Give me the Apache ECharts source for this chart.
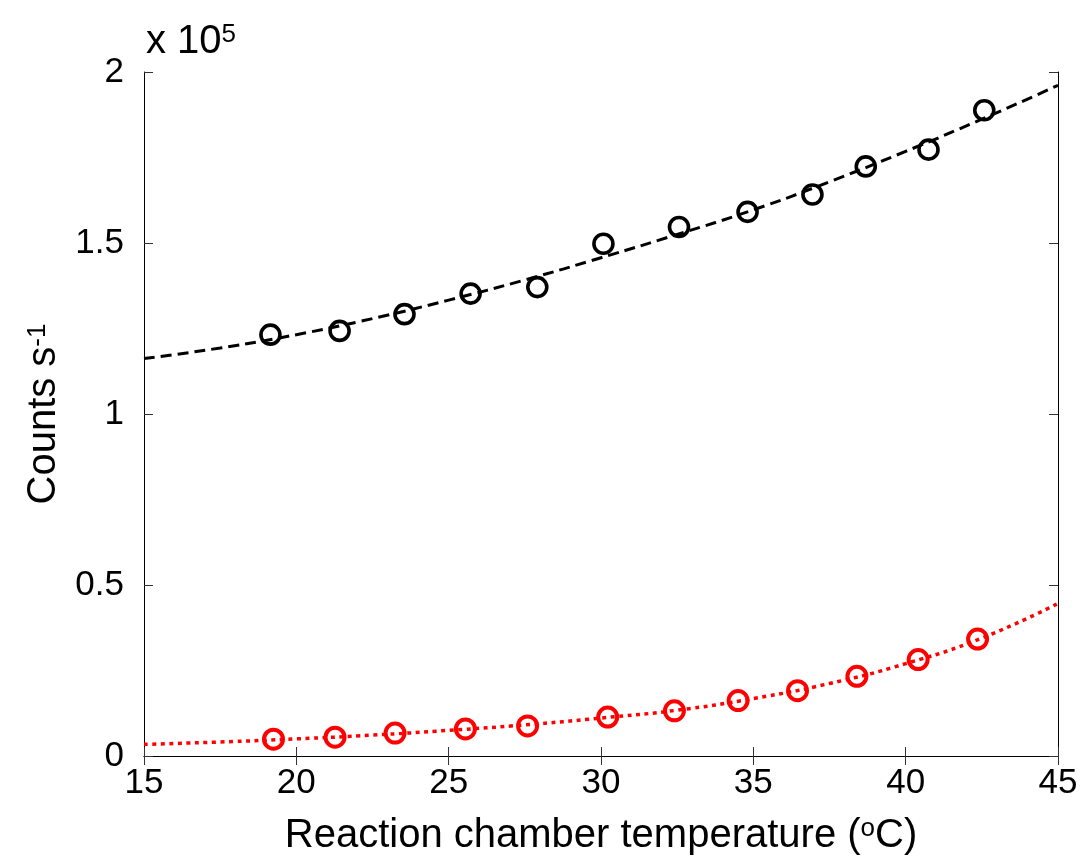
<!DOCTYPE html>
<html>
<head>
<meta charset="utf-8">
<script src="https://cdn.jsdelivr.net/npm/echarts@6/dist/echarts.min.js"></script>
<style>
  html, body { margin: 0; padding: 0; background: #fff; }
  #chart { width: 1084px; height: 863px; }
</style>
</head>
<body>
<div id="chart"></div>
<script>
// measured points (counts in units of 1e5)
var tempBlack = [19.15, 21.42, 23.55, 25.72, 27.91, 30.08, 32.56, 34.81, 36.94, 38.69, 40.75, 42.58];
var countsBlack = [1.232, 1.243, 1.292, 1.352, 1.371, 1.498, 1.547, 1.591, 1.642, 1.724, 1.773, 1.888];
var tempRed = [19.25, 21.27, 23.24, 25.55, 27.59, 30.22, 32.41, 34.5, 36.45, 38.4, 40.41, 42.36];
var countsRed = [0.049, 0.055, 0.067, 0.079, 0.088, 0.114, 0.132, 0.162, 0.191, 0.233, 0.282, 0.342];

// fitted curves
var fitTemp = [15, 17.5, 20, 22.5, 25, 27.5, 30, 32.5, 35, 37.5, 40, 42.5, 45];
var fitBlack = [1.162, 1.193, 1.232, 1.279, 1.333, 1.392, 1.457, 1.525, 1.597, 1.679, 1.768, 1.862, 1.961];
var fitRed = [0.034, 0.041, 0.05, 0.061, 0.075, 0.091, 0.111, 0.134, 0.168, 0.212, 0.27, 0.345, 0.446];

function pairs(xs, ys) {
  return xs.map(function (x, i) { return [x, ys[i]]; });
}

var myChart = echarts.init(document.getElementById("chart"));
var font = "Liberation Sans, Arial, sans-serif";

var tickStyle = { show: true, inside: true, length: 9, lineStyle: { color: "#333", width: 1 } };
var supStyle = { fontSize: 26, verticalAlign: "top", color: "#000", fontFamily: font };

var option = {
  animation: false,
  backgroundColor: "#fff",
  grid: { left: 144, right: 26, top: 72, bottom: 107 },
  textStyle: { fontFamily: font },
  graphic: [
    {
      type: "text",
      left: 146,
      top: 22,
      style: {
        text: "x 10{sup|5}",
        fontFamily: font,
        fontSize: 40,
        fill: "#000",
        rich: { sup: { fontSize: 26, verticalAlign: "top", fontFamily: font, fill: "#000" } }
      }
    }
  ],
  xAxis: [
    {
      type: "value",
      min: 15,
      max: 45,
      interval: 5,
      name: "Reaction chamber temperature ({sup|o}C)",
      nameLocation: "middle",
      nameGap: 60,
      nameTextStyle: {
        color: "#000",
        fontSize: 40,
        fontFamily: font,
        rich: { sup: supStyle }
      },
      axisLine: { lineStyle: { color: "#000", width: 1 } },
      axisTick: tickStyle,
      axisLabel: { color: "#000", fontSize: 35, margin: 10, fontFamily: font },
      splitLine: { show: false }
    },
    {
      type: "value",
      position: "top",
      min: 15,
      max: 45,
      interval: 5,
      axisLine: { show: true, lineStyle: { color: "#000", width: 1 } },
      axisTick: tickStyle,
      axisLabel: { show: false },
      splitLine: { show: false }
    }
  ],
  yAxis: [
    {
      type: "value",
      min: 0,
      max: 2,
      interval: 0.5,
      name: "Counts s{sup|-1}",
      nameLocation: "middle",
      nameGap: 78,
      nameTextStyle: {
        color: "#000",
        fontSize: 40,
        fontFamily: font,
        rich: { sup: supStyle }
      },
      axisLine: { show: true, lineStyle: { color: "#000", width: 1 } },
      axisTick: tickStyle,
      axisLabel: { color: "#000", fontSize: 35, margin: 20, fontFamily: font },
      splitLine: { show: false }
    },
    {
      type: "value",
      position: "right",
      min: 0,
      max: 2,
      interval: 0.5,
      axisLine: { show: true, lineStyle: { color: "#000", width: 1 } },
      axisTick: tickStyle,
      axisLabel: { show: false },
      splitLine: { show: false }
    }
  ],
  series: [
    {
      type: "line",
      data: pairs(fitTemp, fitBlack),
      smooth: true,
      symbol: "none",
      lineStyle: { color: "#000", width: 3, type: [11, 6], cap: "butt" }
    },
    {
      type: "line",
      data: pairs(fitTemp, fitRed),
      smooth: true,
      symbol: "none",
      lineStyle: { color: "#ff0000", width: 3.5, type: [4, 4.5], cap: "butt" }
    },
    {
      type: "scatter",
      data: pairs(tempBlack, countsBlack),
      symbol: "circle",
      symbolSize: 19,
      itemStyle: { color: "rgba(0,0,0,0)", borderColor: "#000", borderWidth: 3.6, opacity: 1 }
    },
    {
      type: "scatter",
      data: pairs(tempRed, countsRed),
      symbol: "circle",
      symbolSize: 19,
      itemStyle: { color: "rgba(0,0,0,0)", borderColor: "#ff0000", borderWidth: 4, opacity: 1 }
    }
  ]
};
myChart.setOption(option);
</script>
</body>
</html>
